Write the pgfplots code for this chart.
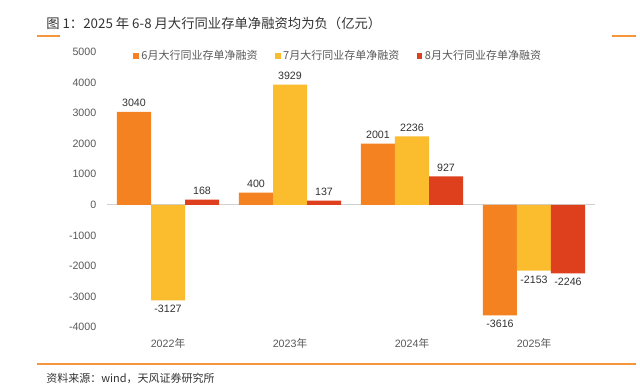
\documentclass[border=0pt]{standalone}
\usepackage{fontspec}
\setmainfont{Liberation Sans}
\newfontfamily\cjk{Noto Sans CJK SC}
\usepackage{pgfplots}
\pgfplotsset{compat=1.18}
\definecolor{cA}{RGB}{245,130,32}
\definecolor{cB}{RGB}{251,188,45}
\definecolor{cC}{RGB}{222,64,30}
\definecolor{lineor}{RGB}{245,150,60}
\definecolor{titlec}{RGB}{51,51,51}
\definecolor{tickc}{RGB}{89,89,89}
\definecolor{labc}{RGB}{50,50,50}
\pgfplotsset{sqleg/.style={legend image code/.code={\fill[##1] (0pt,-2.1pt) rectangle (4.2pt,2.1pt);}}}
\begin{document}
\begin{tikzpicture}
\useasboundingbox (0,0) rectangle (480pt,-290.25pt);
\fill[white] (0,0) rectangle (480pt,-290.25pt);
\begin{scope}[x=0.75pt,y=-0.75pt]
\node[anchor=west, inner sep=0pt, text=titlec, font=\cjk\fontsize{10pt}{12pt}\selectfont] at (46,23) {图 1：2025 年 6-8 月大行同业存单净融资均为负（亿元）};
\draw[line width=1.5pt, lineor] (37,36) -- (60,36);
\draw[line width=1.5pt, lineor] (612,36) -- (636,36);
\draw[line width=1.5pt, lineor] (37,364) -- (636,364);
\node[anchor=west, inner sep=0pt, text=titlec, font=\cjk\fontsize{8.25pt}{10pt}\selectfont] at (46,378) {资料来源：wind，天风证券研究所};
\end{scope}
\begin{axis}[
  at={(80.25pt,-245.25pt)}, anchor=south west,
  scale only axis, width=366pt, height=206.25pt,
  xmin=-0.5, xmax=3.5, ymin=-4000, ymax=5000,
  ybar=0pt, bar width=25.5pt,
  axis line style={draw=none},
  major tick length=0pt,
  xtick={0,1,2,3},
  xticklabels={2022{\cjk 年},2023{\cjk 年},2024{\cjk 年},2025{\cjk 年}},
  ytick={-4000,-3000,...,5000},
  /pgf/number format/assume math mode=true,
  /pgf/number format/1000 sep={},
  tick label style={font=\fontsize{8pt}{9.6pt}\selectfont, text=tickc},
  yticklabel style={xshift=-4.5pt},
  xticklabel style={yshift=-5pt},
  extra y ticks={0}, extra y tick labels={},
  extra y tick style={grid=major, major grid style={draw=black!18, line width=0.8pt}},
  nodes near coords,
  nodes near coords style={font=\fontsize{8pt}{9.6pt}\selectfont, text=labc, inner sep=3.6pt, /pgf/number format/assume math mode=true, /pgf/number format/1000 sep={}},
  legend columns=3,
  legend style={draw=none, fill=none, at={(0.045,0.985)}, anchor=west,
    font=\cjk\fontsize{8.25pt}{10pt}\selectfont, text=tickc,
    /tikz/every even column/.append style={column sep=11pt},
    legend cell align=left},
]
\addplot[fill=cA, draw=none, sqleg] coordinates {(0,3040) (1,400) (2,2001) (3,-3616)};
\addplot[fill=cB, draw=none, sqleg] coordinates {(0,-3127) (1,3929) (2,2236) (3,-2153)};
\addplot[fill=cC, draw=none, sqleg] coordinates {(0,168) (1,137) (2,927) (3,-2246)};
\legend{6月大行同业存单净融资,7月大行同业存单净融资,8月大行同业存单净融资}
\end{axis}
\end{tikzpicture}
\end{document}
